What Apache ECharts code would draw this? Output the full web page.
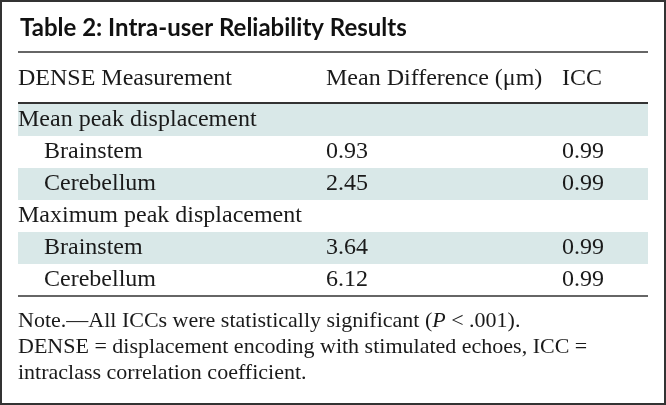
<!DOCTYPE html>
<html><head><meta charset="utf-8">
<script src="https://cdn.jsdelivr.net/npm/echarts@6/dist/echarts.min.js"></script>
<style>html,body{margin:0;padding:0;background:#fff}#c{width:666px;height:405px}</style>
</head><body><div id="c"></div>
<script>
const tableTitle = 'Table 2: Intra-user Reliability Results';
const headers = ['DENSE Measurement', 'Mean Difference (μm)', 'ICC'];
const groups = ['Mean peak displacement', 'Maximum peak displacement'];
const regions = ['Brainstem', 'Cerebellum'];
const meanDifference = [[0.93, 2.45], [3.64, 6.12]];
const iccValues = [[0.99, 0.99], [0.99, 0.99]];
const noteLines = [
  'Note.—All ICCs were statistically significant ({i|P} < .001).',
  'DENSE = displacement encoding with stimulated echoes, ICC =',
  'intraclass correlation coefficient.'
];

// build rows
const rows = [];
groups.forEach((g, gi) => {
  rows.push({label: g, level: 0, md: '', icc: ''});
  regions.forEach((r, ri) => {
    rows.push({label: r, level: 1, md: meanDifference[gi][ri].toFixed(2), icc: iccValues[gi][ri].toFixed(2)});
  });
});

const SERIF = '"Liberation Serif", "Times New Roman", serif';
const FS = 24;
const NFS = 22;
const TXT = '#1a1a1a';
const BAND = '#d9e8e8';
const colX = [0, 308, 544];

const chart = echarts.init(document.getElementById('c'), null, {renderer: 'canvas'});
chart.setOption({
  animation: false,
  title: {
    text: tableTitle, left: 15, top: 11,
    textStyle: {fontFamily: 'Lato, "Noto Sans", sans-serif', fontWeight: 'bold', fontSize: 24, color: '#111'}
  },
  grid: {left: 18, right: 18, top: 104, height: 192},
  xAxis: {type: 'value', min: 0, max: 630, show: false},
  yAxis: {type: 'category', inverse: true, data: rows.map(r => r.label), show: false},
  series: [{
    type: 'custom',
    data: rows.map((r, i) => [i]),
    renderItem: function (params, api) {
      const i = api.value(0);
      const r = rows[i];
      const p0 = api.coord([0, i]);
      const h = api.size([0, 1])[1];
      const cs = params.coordSys;
      const children = [];
      if (i % 2 === 0) {
        children.push({type: 'rect', shape: {x: cs.x, y: p0[1] - h / 2, width: cs.width, height: h}, style: {fill: BAND}});
      }
      const ts = (x, t) => ({type: 'text', x: x, y: p0[1], style: {text: t, font: FS + 'px ' + SERIF, fill: TXT, textVerticalAlign: 'middle', textAlign: 'left'}});
      children.push(ts(api.coord([colX[0], i])[0] + (r.level ? 26 : 0), r.label));
      if (r.md) children.push(ts(api.coord([colX[1], i])[0], r.md));
      if (r.icc) children.push(ts(api.coord([colX[2], i])[0], r.icc));
      return {type: 'group', children: children};
    }
  }],
  graphic: [
    {type: 'rect', shape: {x: 1, y: 1, width: 664, height: 403}, style: {fill: 'none', stroke: '#333', lineWidth: 2}},
    {type: 'line', shape: {x1: 18, y1: 52, x2: 648, y2: 52}, style: {stroke: '#333', lineWidth: 1.3}},
    {type: 'line', shape: {x1: 18, y1: 103, x2: 648, y2: 103}, style: {stroke: '#333', lineWidth: 1.8}},
    {type: 'line', shape: {x1: 18, y1: 296, x2: 648, y2: 296}, style: {stroke: '#333', lineWidth: 1.5}},
    ...headers.map((h, k) => ({type: 'text', x: 18 + colX[k], y: 79, style: {text: h, font: FS + 'px ' + SERIF, fill: TXT, textVerticalAlign: 'middle'}})),
    ...noteLines.map((t, k) => ({type: 'text', x: 18, y: 321 + k * 26, style: {
      text: t, font: NFS + 'px ' + SERIF, fill: TXT, textVerticalAlign: 'middle',
      rich: {i: {fontStyle: 'italic', fontFamily: SERIF, fontSize: NFS, fill: TXT}}
    }}))
  ]
});
</script></body></html>
